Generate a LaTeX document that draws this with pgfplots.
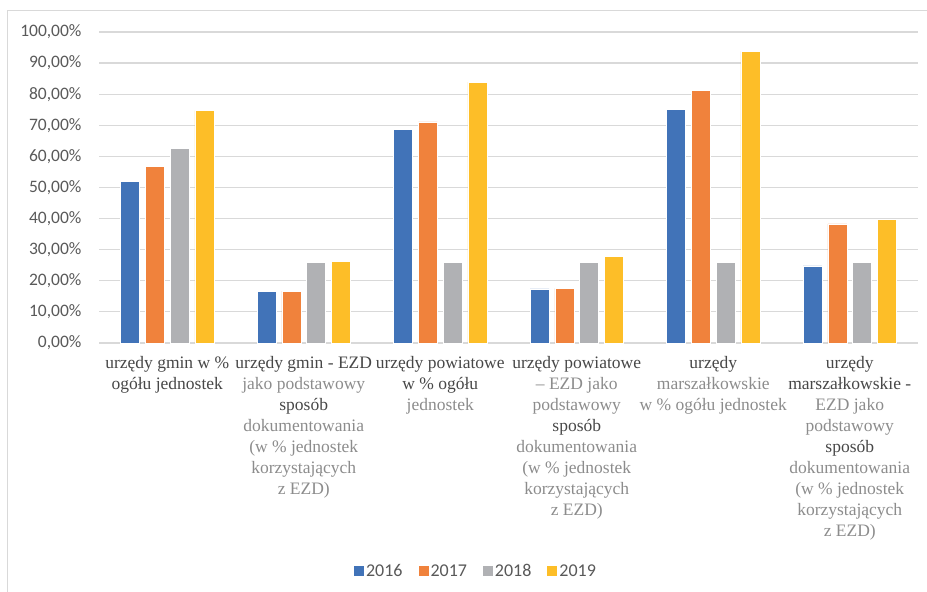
\documentclass[border=0pt]{standalone}
\usepackage{pgfplots}
\pgfplotsset{compat=1.18}
\usepackage{pgfplotstable}
\usepackage{fontspec}
\setmainfont{Carlito}
\newfontfamily\labelserif{Liberation Serif}

\definecolor{c2016}{HTML}{4173B8}
\definecolor{c2017}{HTML}{F0823C}
\definecolor{c2018}{HTML}{B0B1B4}
\definecolor{c2019}{HTML}{FDBE28}
\definecolor{gridgray}{HTML}{D9D9D9}
\definecolor{ticktext}{HTML}{595959}
\definecolor{dk}{HTML}{474747}
\definecolor{lt}{HTML}{8C8C8C}

% share of offices (%), one row per category
\pgfplotstableread{
x  y2016 y2017 y2018 y2019
0  52.0  56.7  62.5  74.7
1  16.7  16.7  26.0  26.3
2  68.8  71.1  26.0  83.9
3  17.4  17.6  26.0  27.9
4  75.0  81.2  26.0  93.8
5  24.8  38.3  26.0  39.8
}\ezd

\newcommand{\Dk}[1]{\textcolor{dk}{#1}}
\newcommand{\Lt}[1]{\textcolor{lt}{#1}}

\begin{document}
\begin{tikzpicture}
\path[use as bounding box] (0bp,0bp) rectangle (927bp,592bp);
\draw[gridgray, line width=1.2bp] (7.5bp,0bp) -- (7.5bp,581.5bp) -- (927bp,581.5bp);
\begin{axis}[
  at={(99bp,249bp)}, anchor=south west,
  scale only axis, width=819bp, height=311bp,
  ybar=5.7bp, bar width=19bp,
  xmin=-0.5, xmax=5.5, ymin=0, ymax=100,
  enlarge x limits=false,
  axis line style={draw=none},
  major tick length=0pt,
  ymajorgrids, grid style={gridgray, line width=1.2bp},
  ytick={0,10,...,100},
  yticklabel={\pgfmathprintnumber[fixed,fixed zerofill,precision=2,use comma]{\tick}\%},
  /pgf/number format/assume math mode=true,
  yticklabel style={font=\fontsize{17.5bp}{20bp}\selectfont, text=ticktext, anchor=east, xshift=-14bp},
  xtick={0,...,5},
  xticklabels={
    {\Dk{urzędy gmin w \%}\\\Dk{ogółu jednostek}},
    {\Dk{urzędy gmin - EZD}\\\Lt{jako podstawowy}\\\Dk{sposób}\\\Lt{dokumentowania}\\\Lt{(w \% jednostek}\\\Lt{korzystających}\\\Lt{z EZD)}},
    {\Dk{urzędy powiatowe}\\\Dk{w \% ogółu}\\\Lt{jednostek}},
    {\Dk{urzędy powiatowe}\\\Lt{– EZD jako}\\\Lt{podstawowy}\\\Dk{sposób}\\\Lt{dokumentowania}\\\Lt{(w \% jednostek}\\\Lt{korzystających}\\\Lt{z EZD)}},
    {\Dk{urzędy}\\\Lt{marszałkowskie}\\\Lt{w \% ogółu jednostek}},
    {\Dk{urzędy}\\\Dk{marszałkowskie -}\\\Lt{EZD jako}\\\Lt{podstawowy}\\\Dk{sposób}\\\Lt{dokumentowania}\\\Lt{(w \% jednostek}\\\Lt{korzystających}\\\Lt{z EZD)}}
  },
  xticklabel style={font=\labelserif\fontsize{17.5bp}{21bp}\selectfont, align=center, anchor=north, yshift=-10bp},
  legend columns=4,
  legend style={at={(0.4603,-0.733)}, anchor=center, draw=none,
    font=\fontsize{18bp}{20bp}\selectfont, text=ticktext,
    /tikz/every even column/.append style={column sep=14bp}},
  legend image code/.code={\fill[#1,draw=none] (0bp,-5bp) rectangle (10bp,5bp);},
]
\addplot[fill=c2016, draw=white, line width=0.5bp] table[x=x,y=y2016]{\ezd};
\addplot[fill=c2017, draw=white, line width=0.5bp] table[x=x,y=y2017]{\ezd};
\addplot[fill=c2018, draw=white, line width=0.5bp] table[x=x,y=y2018]{\ezd};
\addplot[fill=c2019, draw=white, line width=0.5bp] table[x=x,y=y2019]{\ezd};
\legend{2016,2017,2018,2019}
\end{axis}
\end{tikzpicture}
\end{document}
